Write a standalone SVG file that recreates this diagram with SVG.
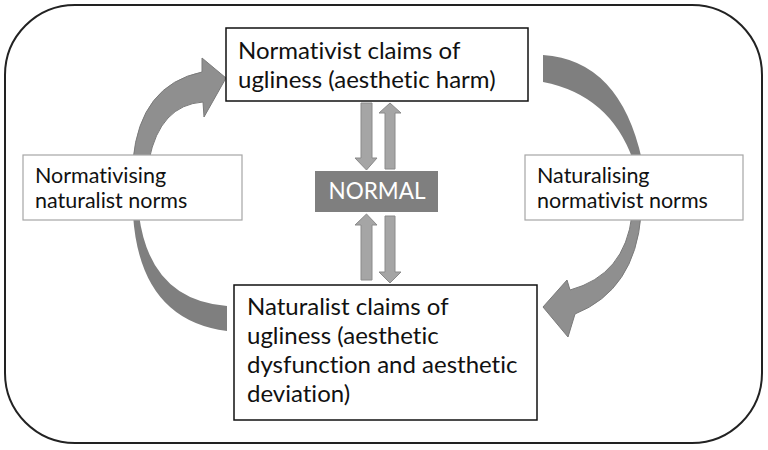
<svg xmlns="http://www.w3.org/2000/svg" width="768" height="450" viewBox="0 0 768 450">
<style>
.t{font-family:Lato,"Open Sans","Liberation Sans",sans-serif;fill:#111;font-variant-ligatures:none;font-feature-settings:"liga" 0,"dlig" 0}
.big{font-size:24px}
.mid{font-size:21.5px}
.box{fill:#fff;stroke:#111;stroke-width:1.5}
.lbl{fill:#fff;stroke:#a6a6a6;stroke-width:1.2}
.tail{fill:#7f7f7f}
.head{fill:#8f8f8f;stroke:#7a7a7a;stroke-width:1}
.sm{fill:#a5a5a5;stroke:#8a8a8a;stroke-width:1}
</style>
<rect x="5" y="5" width="757" height="438" rx="70" ry="70" fill="#fff" stroke="#222" stroke-width="2"/>
<g id="connectors">
<path class="tail" d="M543,55 Q620,60 642,160 L633,160 Q610,95 543,82 Z"/>
<path class="head" d="M632,215 Q625,275 570,290 L567,280 L543,307 L568,337 L575,314 Q635,290 641,215 Z"/>
<path class="tail" d="M227,331 Q140,320 133,215 L139,215 Q150,300 227,306 Z"/>
<path class="head" d="M133,160 Q140,85 202,72 L202,58 L226,78 L204,117 L203,102 Q160,105 149,160 Z"/>
<path class="sm" d="M361,103 L372,103 L372,158 L377,158 L366.5,170 L355,158 L361,158 Z"/>
<path class="sm" d="M385,169 L395,169 L395,113 L401,113 L390,103 L379,113 L385,113 Z"/>
<path class="sm" d="M361,280 L372,280 L372,225 L377,225 L366.5,214 L355,225 L361,225 Z"/>
<path class="sm" d="M385,216 L395,216 L395,272 L401,272 L390,283 L379,272 L385,272 Z"/>
</g>
<g id="top">
<rect class="box" x="226" y="28" width="302" height="73"/>
<text class="t big" x="238" y="59">Normativist claims of</text>
<text class="t big" x="238" y="88">ugliness (aesthetic harm)</text>
</g>
<g id="bottom">
<rect class="box" x="234" y="285" width="303" height="135"/>
<text class="t big" x="247" y="315">Naturalist claims of</text>
<text class="t big" x="247" y="344">ugliness (aesthetic</text>
<text class="t big" x="247" y="373">dysfunction and aesthetic</text>
<text class="t big" x="247" y="402">deviation)</text>
</g>
<g id="left">
<rect class="lbl" x="23" y="155" width="219" height="65"/>
<text class="t mid" x="35" y="183">Normativising</text>
<text class="t mid" x="35" y="208">naturalist norms</text>
</g>
<g id="right">
<rect class="lbl" x="525" y="155" width="218" height="65"/>
<text class="t mid" x="537" y="183">Naturalising</text>
<text class="t mid" x="537" y="208">normativist norms</text>
</g>
<g id="normal">
<rect x="315" y="171" width="123" height="41" fill="#7f7f7f"/>
<text class="t" x="377" y="199" text-anchor="middle" style="fill:#fff;font-size:22.5px">NORMAL</text>
</g>
</svg>
